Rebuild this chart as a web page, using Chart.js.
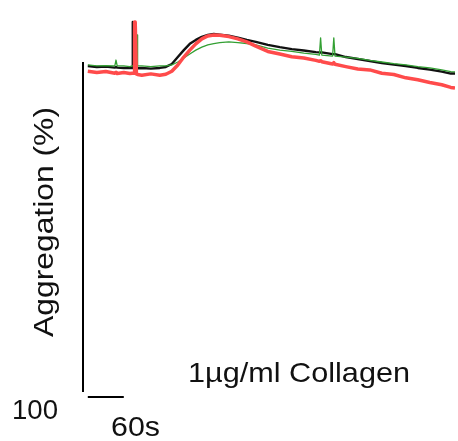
<!DOCTYPE html>
<html>
<head>
<meta charset="utf-8">
<script src="https://cdn.jsdelivr.net/npm/chart.js@4.4.0/dist/chart.umd.min.js"></script>
<style>
  html, body { margin: 0; padding: 0; background: #fff; }
  #wrap { width: 458px; height: 441px; }
</style>
</head>
<body>
<div id="wrap"><canvas id="grafico" width="458" height="441"></canvas></div>
<script>
// Tiempo (s) desde el inicio del registro
const tiempo = [0, 15, 30, 45, 47, 49, 60, 70, 74, 75, 76, 77, 78, 79, 81, 82, 83, 90, 105, 120,
  130, 140, 150, 160, 170, 180, 190, 200, 210, 220, 235, 250, 265, 280, 300, 320, 340, 360, 380,
  386, 388, 390, 408, 410, 412, 430, 450, 470, 490, 510, 530, 550, 570, 590, 605, 612];

// Agregación (%) de cada trazo (negativo = cambio de forma)
const trazoNegro = [1.2, 1.5, 1.4, 1.7, 1.5, 1.7, 1.8, 1.8, 1.8, -12.1, 1.8, 1.8, 1.9, 1.9, 1.9, 1.9, 1.9, 1.8, 2.0, 1.8,
  1.5, 0.6, -1.5, -3.6, -5.5, -6.7, -7.6, -8.2, -8.5, -8.3, -8.0, -7.4, -6.7, -6.1, -5.2, -4.5, -3.9, -3.5, -3.0,
  -2.9, -2.9, -2.9, -2.4, -2.4, -2.4, -1.5, -0.9, -0.3, 0.3, 0.8, 1.2, 1.8, 2.3, 2.9, 3.5, 3.5];

const trazoRojo = [2.8, 3.2, 2.9, 3.4, 3.1, 3.5, 3.2, 3.5, 3.4, 3.4, 3.4, 3.4, -12.1, -12.1, 3.6, 3.7, 3.8, 4.0, 3.6, 4.0,
  3.7, 2.8, 0.9, -1.5, -3.6, -5.5, -7.0, -7.9, -8.2, -8.1, -7.7, -7.0, -6.1, -4.8, -3.2, -2.4, -1.6, -1.2, -0.5,
  -0.2, -0.4, -0.1, 0.6, 0.2, 0.7, 1.4, 2.1, 2.4, 3.4, 3.8, 4.8, 5.4, 6.2, 6.9, 7.7, 7.9];

const trazoVerde = [0.9, 1.2, 1.1, 1.2, -0.6, 1.2, 1.2, 1.4, 1.2, 1.2, 1.2, 1.2, 1.3, 1.2, 1.2, -8.2, 1.2, 1.2, 1.4, 1.2,
  1.2, 0.9, 0.0, -1.2, -2.4, -3.6, -4.5, -5.2, -5.6, -5.9, -6.1, -5.9, -5.6, -5.2, -4.2, -3.6, -3.2, -2.7, -2.3,
  -2.1, -7.3, -2.1, -1.8, -7.3, -1.8, -1.5, -1.1, -0.5, 0.0, 0.5, 0.9, 1.4, 1.8, 2.4, 2.9, 3.0];

// Textos de la figura
const etiquetaEje = "Aggregation (%)";
const etiquetaEscalaY = "100";
const etiquetaEscalaX = "60s";
const etiquetaAgonista = "1\u00b5g/ml Collagen";
const barraTiempo = [0, 60];   // barra de escala (s)
const rangoEje = [0, 100];     // eje vertical (%)

// Pares {x, y} para Chart.js
function puntos(valores) {
  return tiempo.map((t, i) => ({ x: t, y: valores[i] }));
}

// Dibuja texto ajustado a un ancho dado (opcionalmente vertical)
function textoAjustado(ctx, texto, x, y, ancho, vertical) {
  ctx.save();
  ctx.translate(x, y);
  if (vertical) ctx.rotate(-Math.PI / 2);
  const w = ctx.measureText(texto).width;
  ctx.scale(ancho / w, 1);
  ctx.fillText(texto, 0, 0);
  ctx.restore();
}

// ===== PLUGIN: eje, barra de escala y etiquetas =====
const anotaciones = {
  id: "anotaciones",
  afterDatasetsDraw(chart) {
    const ctx = chart.ctx;
    const sx = chart.scales.x, sy = chart.scales.y;

    ctx.save();
    ctx.strokeStyle = "#000";
    ctx.lineWidth = 2;

    // Eje vertical 0-100 %
    const xEje = sx.getPixelForValue(-8);
    ctx.beginPath();
    ctx.moveTo(xEje, sy.getPixelForValue(rangoEje[0]));
    ctx.lineTo(xEje, sy.getPixelForValue(rangoEje[1]));
    ctx.stroke();

    // Barra de 60 s
    const yBarra = sy.getPixelForValue(101.5);
    ctx.beginPath();
    ctx.moveTo(sx.getPixelForValue(barraTiempo[0]), yBarra);
    ctx.lineTo(sx.getPixelForValue(barraTiempo[1]), yBarra);
    ctx.stroke();

    ctx.fillStyle = "#111";
    ctx.font = "28px 'Liberation Sans', Arial, sans-serif";
    ctx.textBaseline = "alphabetic";
    ctx.textAlign = "left";
    textoAjustado(ctx, etiquetaEscalaY, 12, 419, 46, false);
    textoAjustado(ctx, etiquetaEscalaX, 111, 436, 49, false);
    textoAjustado(ctx, etiquetaAgonista, 188, 382, 222, false);
    ctx.font = "27px 'Liberation Sans', Arial, sans-serif";
    textoAjustado(ctx, etiquetaEje, 53, 337, 230, true);
    ctx.restore();
  }
};

new Chart(document.getElementById("grafico"), {
  type: "line",
  data: {
    datasets: [
      { label: "rojo", data: puntos(trazoRojo), borderColor: "#ff4b4b", borderWidth: 3.5 },
      { label: "verde", data: puntos(trazoVerde), borderColor: "#33a033", borderWidth: 1.3 },
      { label: "negro", data: puntos(trazoNegro), borderColor: "#111", borderWidth: 2.4 }
    ]
  },
  options: {
    responsive: false,
    animation: false,
    elements: { point: { radius: 0 }, line: { tension: 0, borderJoinStyle: "round" } },
    layout: { padding: { left: 83, right: 3, top: 12.5, bottom: 49 } },
    plugins: { legend: { display: false }, tooltip: { enabled: false } },
    scales: {
      x: { type: "linear", min: -8, max: 612, display: false },
      y: { min: -15, max: 100, reverse: true, display: false }
    }
  },
  plugins: [anotaciones]
});
</script>
</body>
</html>
